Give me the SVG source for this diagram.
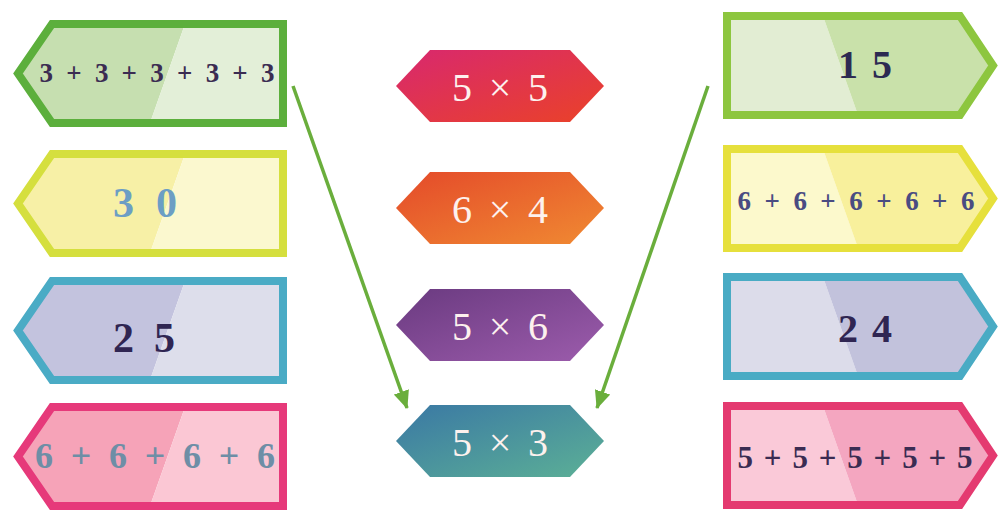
<svg xmlns="http://www.w3.org/2000/svg" width="1006" height="521" viewBox="0 0 1006 521">
<style>
.outline{fill:none;stroke-width:8;stroke-linejoin:miter}
.sum{font-family:"Liberation Serif","Times New Roman",serif;font-weight:bold;text-anchor:middle}
.mul{font-family:"Liberation Serif","Times New Roman",serif;font-size:40px;fill:#fdf1ee;text-anchor:middle}
.conn{stroke:#6aae3c;stroke-width:3.5;fill:none}
</style>
<defs>
<path id="lshape" d="M52,4 H283 V103 H52 L18,53.5 Z"/>
<path id="ldark" d="M52,4 H185 L150,103 H52 L18,53.5 Z"/>
<path id="llight" d="M185,4 H283 V103 H150 Z"/>
<path id="rshape" d="M727,4 H960 L993,53.5 L960,103 H727 Z"/>
<path id="rlight" d="M727,4 H823 L858,103 H727 Z"/>
<path id="rdark" d="M823,4 H960 L993,53.5 L960,103 H858 Z"/>
<path id="hex" d="M396,0 L430,-36 H570 L604,0 L570,36 H430 Z"/>
<linearGradient id="g1" x1="0" y1="0" x2="1" y2="1"><stop offset="0" stop-color="#d8286f"/><stop offset="1" stop-color="#ea4228"/></linearGradient>
<linearGradient id="g2" x1="0" y1="0" x2="1" y2="1"><stop offset="0" stop-color="#e44a2a"/><stop offset="1" stop-color="#f08a32"/></linearGradient>
<linearGradient id="g3" x1="0" y1="0" x2="1" y2="1"><stop offset="0" stop-color="#6a3a80"/><stop offset="1" stop-color="#9c5cac"/></linearGradient>
<linearGradient id="g4" x1="0" y1="0" x2="1" y2="1"><stop offset="0" stop-color="#3a78a4"/><stop offset="1" stop-color="#5cb096"/></linearGradient>
<marker id="ah" markerUnits="userSpaceOnUse" markerWidth="18" markerHeight="16" refX="17" refY="8" orient="auto"><path d="M0,0 L18,8 L0,16 Z" fill="#6aae3c"/></marker>
</defs>

<g id="card-l1" transform="translate(0,20)">
<use href="#ldark" fill="#c6dfb0"/><use href="#llight" fill="#e3efd8"/><use href="#lshape" class="outline" stroke="#5caf3c"/>
<text class="sum" x="157" y="62" font-size="27" fill="#3b2c52" textLength="235" lengthAdjust="spacing">3 + 3 + 3 + 3 + 3</text>
</g>
<g id="card-l2" transform="translate(0,150)">
<use href="#ldark" fill="#f7f0a6"/><use href="#llight" fill="#fbf8cf"/><use href="#lshape" class="outline" stroke="#d5df3e"/>
<text class="sum" x="145" y="67" font-size="42" fill="#6c9ec4" textLength="64" lengthAdjust="spacing">3 0</text>
</g>
<g id="card-l3" transform="translate(0,277)">
<use href="#ldark" fill="#c3c3de"/><use href="#llight" fill="#dddeeb"/><use href="#lshape" class="outline" stroke="#4aabc5"/>
<text class="sum" x="144" y="75" font-size="42" fill="#2f2552" textLength="62" lengthAdjust="spacing">2 5</text>
</g>
<g id="card-l4" transform="translate(0,403)">
<use href="#ldark" fill="#f6a3b8"/><use href="#llight" fill="#fbc7d4"/><use href="#lshape" class="outline" stroke="#e6397a"/>
<text class="sum" x="155" y="65" font-size="36" fill="#6e8ea6" textLength="240" lengthAdjust="spacing">6 + 6 + 6 + 6</text>
</g>

<g id="card-r1" transform="translate(0,12)">
<use href="#rlight" fill="#e2edd3"/><use href="#rdark" fill="#c9e1aa"/><use href="#rshape" class="outline" stroke="#8dc63f"/>
<text class="sum" x="865" y="66" font-size="40" fill="#2c2a52" textLength="54" lengthAdjust="spacing">1 5</text>
</g>
<g id="card-r2" transform="translate(0,145)">
<use href="#rlight" fill="#fcf9cc"/><use href="#rdark" fill="#f8f09c"/><use href="#rshape" class="outline" stroke="#e6e03c"/>
<text class="sum" x="856" y="65" font-size="27" fill="#4a4c82" textLength="237" lengthAdjust="spacing">6 + 6 + 6 + 6 + 6</text>
</g>
<g id="card-r3" transform="translate(0,273)">
<use href="#rlight" fill="#dcdcea"/><use href="#rdark" fill="#c2c2dc"/><use href="#rshape" class="outline" stroke="#49abc4"/>
<text class="sum" x="865" y="69" font-size="40" fill="#2f2552" textLength="54" lengthAdjust="spacing">2 4</text>
</g>
<g id="card-r4" transform="translate(0,402)">
<use href="#rlight" fill="#fac9d8"/><use href="#rdark" fill="#f4a6c0"/><use href="#rshape" class="outline" stroke="#e43a70"/>
<text class="sum" x="855" y="66" font-size="31" fill="#3a2c52" textLength="235" lengthAdjust="spacing">5 + 5 + 5 + 5 + 5</text>
</g>

<g id="hex-1" transform="translate(0,86)">
<use href="#hex" fill="url(#g1)"/>
<text class="mul" x="500" y="15" textLength="96" lengthAdjust="spacing">5 × 5</text>
</g>
<g id="hex-2" transform="translate(0,208)">
<use href="#hex" fill="url(#g2)"/>
<text class="mul" x="500" y="15" textLength="96" lengthAdjust="spacing">6 × 4</text>
</g>
<g id="hex-3" transform="translate(0,325)">
<use href="#hex" fill="url(#g3)"/>
<text class="mul" x="500" y="15" textLength="96" lengthAdjust="spacing">5 × 6</text>
</g>
<g id="hex-4" transform="translate(0,441)">
<use href="#hex" fill="url(#g4)"/>
<text class="mul" x="500" y="15" textLength="96" lengthAdjust="spacing">5 × 3</text>
</g>

<g id="connectors">
<line class="conn" x1="293" y1="86" x2="407" y2="408" marker-end="url(#ah)"/>
<line class="conn" x1="708" y1="86" x2="597" y2="408" marker-end="url(#ah)"/>
</g>
</svg>
